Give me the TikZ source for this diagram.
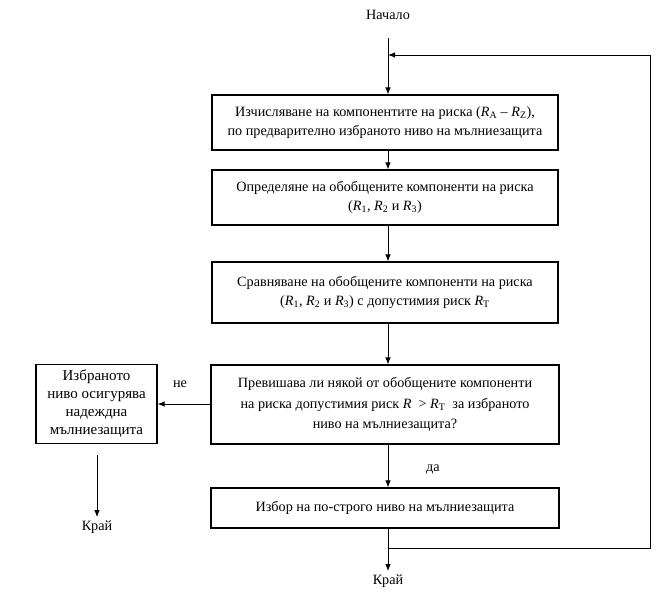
\documentclass[tikz,border=0pt]{standalone}
\usepackage{fontspec}
\setmainfont{Liberation Serif}
\usetikzlibrary{arrows.meta}
\newcommand{\Rsub}[1]{\textit{R}\textsubscript{#1}}
\begin{document}
\begin{tikzpicture}[x=1bp,y=-1bp,
  font=\fontsize{14.2bp}{19bp}\selectfont,
  box/.style={draw,line width=1.1bp,align=center,inner sep=2bp},
  arr/.style={line width=0.9bp,-{Latex[length=7bp,width=5.5bp]}},
  ln/.style={line width=0.9bp}]
\useasboundingbox (0,0) rectangle (672,601);
\node (start) at (388,15) {Начало};
\node[box,minimum width=346bp,minimum height=55bp] (b1) at (385,122.5)
  {Изчисляване на компонентите на риска (\Rsub{A} – \Rsub{Z}),\\по предварително избраното ниво на мълниезащита};
\node[box,minimum width=346bp,minimum height=55bp] (b2) at (385,197.5)
  {Определяне на обобщените компоненти на риска\\(\Rsub{1}, \Rsub{2} и \Rsub{3})};
\node[box,minimum width=346bp,minimum height=61bp] (b3) at (385,292.5)
  {Сравняване на обобщените компоненти на риска\\(\Rsub{1}, \Rsub{2} и \Rsub{3}) с допустимия риск \Rsub{T}};
\node[box,minimum width=348bp,minimum height=79bp,font=\fontsize{14.2bp}{20.5bp}\selectfont] (b4) at (385,404.5)
  {Превишава ли някой от обобщените компоненти\\на риска допустимия риск \textit{R}\ \ > \Rsub{T} \ за избраното\\ниво на мълниезащита?};
\node[box,minimum width=348bp,minimum height=40bp] (b5) at (385,508)
  {Избор на по-строго ниво на мълниезащита};
\node[box,minimum width=121bp,minimum height=79bp,font=\fontsize{15bp}{18bp}\selectfont] (lb) at (96.5,404)
  {Избраното\\ниво осигурява\\надеждна\\мълниезащита};
\node (endL) at (97,527) {Край};
\node (endR) at (388,581) {Край};
\node (no) at (180,384) {не};
\node (yes) at (433,470) {да};
\coordinate (jt) at (388,55);
\coordinate (rt) at (650,55);
\coordinate (rb) at (650,548);
\coordinate (jb) at (388,548);
\coordinate (lstart) at (97,455);
\coordinate (top) at (388,38);
\draw[arr] (top) -- (b1.north -| jt);
\draw[arr] (b1.south -| jt) -- (b2.north -| jt);
\draw[arr] (b2.south -| jt) -- (b3.north -| jt);
\draw[arr] (b3.south -| jt) -- (b4.north -| jt);
\draw[arr] (b4.south -| jt) -- (b5.north -| jt);
\draw[arr] (b4.west |- lb) -- (lb.east);
\draw[arr] (lstart) -- (endL.north);
\draw[arr] (b5.south -| jt) -- (endR.north);
\draw[arr] (jb) -- (rb) -- (rt) -- (jt);
\end{tikzpicture}
\end{document}
